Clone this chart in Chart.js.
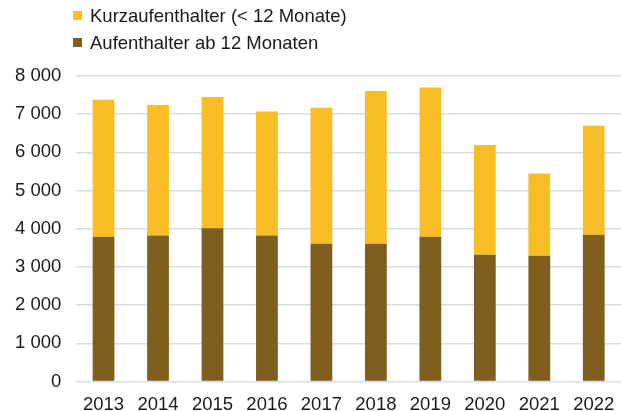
<!DOCTYPE html>
<html>
<head>
<meta charset="utf-8">
<script src="https://cdn.jsdelivr.net/npm/chart.js@4"></script>
<style>
  body { margin: 0; background: #fff; }
  #wrap { position: relative; width: 621px; height: 411px; overflow: hidden; }
  #chart { position: absolute; left: 0; top: 0; display: block; }
  #legend { position: absolute; left: 73px; top: 2px; font-family: "Liberation Sans", Arial, sans-serif; font-size: 18.5px; color: #1a1a1a; }
  .item { display: flex; align-items: center; height: 27px; }
  .box { width: 9px; height: 9px; margin-right: 8px; }
</style>
</head>
<body>
<div id="wrap">
  <canvas id="chart" width="621" height="420" style="width:621px;height:420px"></canvas>
  <div id="legend"></div>
</div>
<script>
const years = ["2013", "2014", "2015", "2016", "2017", "2018", "2019", "2020", "2021", "2022"];
const aufenthalter = [3790, 3820, 4010, 3820, 3610, 3610, 3790, 3320, 3295, 3840];
const kurzaufenthalter = [3590, 3420, 3440, 3250, 3560, 4000, 3910, 2870, 2150, 2860];
const yTicks = [0, 1000, 2000, 3000, 4000, 5000, 6000, 7000, 8000];

const brown = "#805F1E";
const yellow = "#F9BD25";
const font = { family: "'Liberation Sans', Arial, sans-serif", size: 18.5 };

function fmt(v) {
  return String(v).replace(/\B(?=(\d{3})+(?!\d))/g, " ");
}

// canvas is a bit taller than the page and clipped, so the year labels sit near the bottom edge
const chart = new Chart(document.getElementById("chart"), {
  type: "bar",
  data: {
    labels: years,
    datasets: [
      { label: "Aufenthalter ab 12 Monaten", data: aufenthalter, backgroundColor: brown },
      { label: "Kurzaufenthalter (< 12 Monate)", data: kurzaufenthalter, backgroundColor: yellow }
    ]
  },
  options: {
    responsive: false,
    animation: false,
    layout: { padding: { left: 0, top: 76, right: 0, bottom: 0 } },
    datasets: { bar: { barPercentage: 0.4, categoryPercentage: 1 } },
    plugins: { legend: { display: false }, tooltip: { enabled: false } },
    scales: {
      x: {
        stacked: true,
        grid: { display: false },
        border: { display: false },
        ticks: { color: "#1a1a1a", font: { ...font, lineHeight: 1 }, padding: 6, maxRotation: 0 }
      },
      y: {
        stacked: true,
        min: 0,
        max: 8000,
        afterBuildTicks: (axis) => { axis.ticks = yTicks.map((v) => ({ value: v })); },
        grid: { color: "#D3DDE3", lineWidth: 1.5, drawTicks: false },
        border: { display: false },
        ticks: { color: "#1a1a1a", font: font, padding: 15, callback: (v) => fmt(v) }
      }
    }
  }
});

// legend, top item first like in the original
const legend = document.getElementById("legend");
chart.data.datasets.slice().reverse().forEach((ds) => {
  const item = document.createElement("div");
  item.className = "item";
  const box = document.createElement("span");
  box.className = "box";
  box.style.background = ds.backgroundColor;
  item.appendChild(box);
  item.appendChild(document.createTextNode(ds.label));
  legend.appendChild(item);
});
</script>
</body>
</html>
